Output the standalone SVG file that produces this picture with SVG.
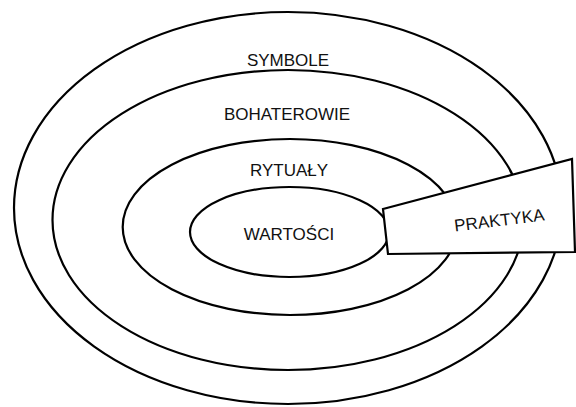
<svg xmlns="http://www.w3.org/2000/svg" width="576" height="407" viewBox="0 0 576 407">
<style>
.ring{fill:none;stroke:#000;stroke-width:2.2}
.box{fill:#fff;stroke:#000;stroke-width:2.2;stroke-linejoin:miter}
.lbl{font-family:"Liberation Sans",Arial,sans-serif;font-size:17px;fill:#111;text-anchor:middle}
</style>
<rect width="576" height="407" fill="#fff"/>
<g id="symbole">
<ellipse class="ring" cx="288" cy="208" rx="274" ry="196"/>
<text class="lbl" x="288" y="66">SYMBOLE</text>
</g>
<g id="bohaterowie">
<ellipse class="ring" cx="288" cy="220" rx="235.5" ry="150"/>
<text class="lbl" x="287" y="120">BOHATEROWIE</text>
</g>
<g id="rytualy">
<ellipse class="ring" cx="290" cy="227" rx="167.3" ry="88"/>
<text class="lbl" x="289" y="176">RYTUAŁY</text>
</g>
<g id="wartosci">
<ellipse class="ring" cx="289.5" cy="232" rx="99.5" ry="45"/>
<text class="lbl" x="289" y="239.5">WARTOŚCI</text>
</g>
<g id="praktyka">
<polygon class="box" points="383,209 572,159 575,252 388,254"/>
<text class="lbl" transform="translate(500,226) rotate(-7.1)" x="0" y="0">PRAKTYKA</text>
</g>
<g id="connectors"/>
</svg>
